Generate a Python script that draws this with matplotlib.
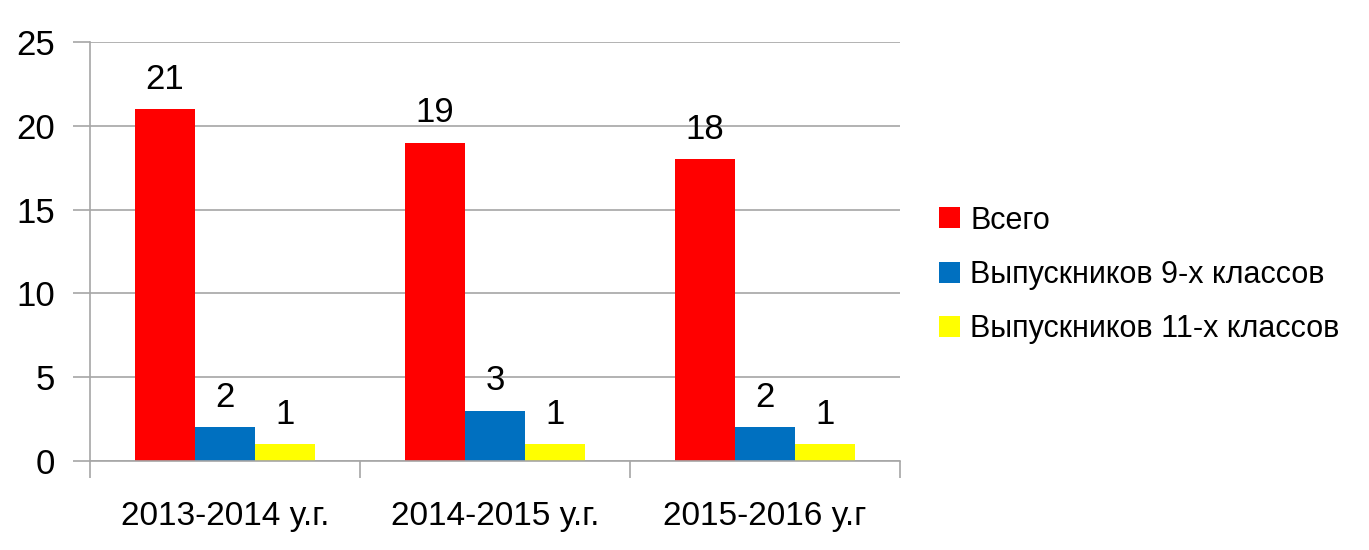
import matplotlib
matplotlib.use("Agg")
import matplotlib.pyplot as plt
from matplotlib import font_manager
import numpy as np

years = ["2013-2014 у.г.", "2014-2015 у.г.", "2015-2016 у.г"]
series_names = ["Всего", "Выпускников 9-х классов", "Выпускников 11-х классов"]
total = [21, 19, 18]
grads_9 = [2, 3, 2]
grads_11 = [1, 1, 1]
series_colors = ["#FF0000", "#0070C0", "#FFFF00"]

available = {f.name for f in font_manager.fontManager.ttflist}
family = ["Liberation Sans Narrow", "Liberation Sans", "DejaVu Sans"]
family = [f for f in family if f in available] or ["DejaVu Sans"]
plt.rcParams["font.family"] = family

GRID = "#A6A6A6"

fig = plt.figure(figsize=(13.69, 5.5), dpi=100)
ax = fig.add_axes([0.0657, 0.1618, 0.5917, 0.7618])

x = np.arange(len(years))
width = 0.222
all_series = [total, grads_9, grads_11]
for i, (vals, name, col) in enumerate(zip(all_series, series_names, series_colors)):
    offs = (i - 1) * width
    bars = ax.bar(x + offs, vals, width=width, color=col, label=name, zorder=2, linewidth=0)
    for b, v in zip(bars, vals):
        ax.text(b.get_x() + b.get_width() / 2, v + 0.8, str(v),
                ha="center", va="bottom", fontsize=25, color="black")

ax.set_xlim(-0.5, len(years) - 0.5)
ax.set_ylim(0, 25)
ax.set_yticks(range(0, 26, 5))
ax.yaxis.grid(True, color=GRID, linewidth=1.2, zorder=0)
ax.set_axisbelow(True)

ax.set_xticks(x)
ax.set_xticklabels(years, fontsize=24)
ax.set_xticks(np.arange(-0.5, len(years), 1), minor=True)
ax.tick_params(axis="x", which="major", length=0, pad=29)
ax.tick_params(axis="x", which="minor", length=12, color=GRID, width=1.2)
ax.tick_params(axis="y", length=12, color=GRID, width=1.2, labelsize=25, pad=13)

for side in ["top", "right"]:
    ax.spines[side].set_visible(False)
for side in ["left", "bottom"]:
    ax.spines[side].set_color(GRID)
    ax.spines[side].set_linewidth(1.2)

ax.legend(loc="center left", bbox_to_anchor=(1.014, 0.444), frameon=False,
          fontsize=22, handlelength=0.68, handleheight=0.68, handletextpad=0.35,
          labelspacing=0.8)

fig.savefig("out.png", dpi=100, facecolor="white")
